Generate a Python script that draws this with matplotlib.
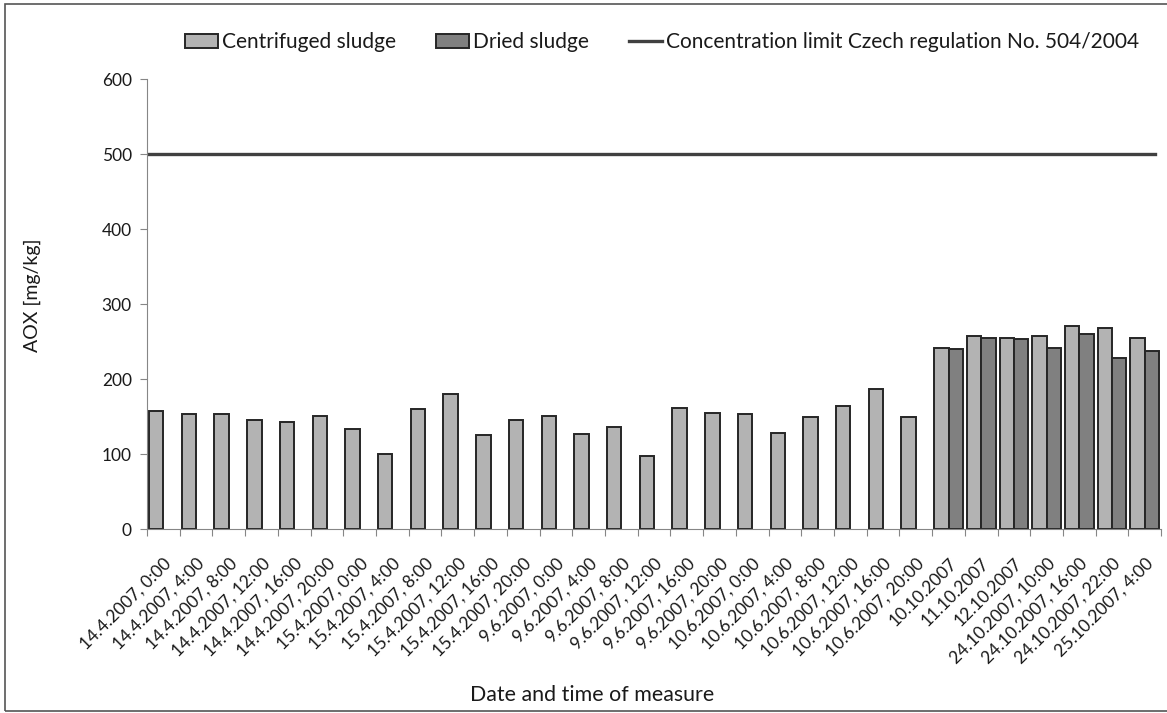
import numpy as np
import matplotlib
matplotlib.use('Agg')
import matplotlib.pyplot as plt
from matplotlib.patches import Rectangle

plt.rcParams['font.family'] = ['Lato', 'DejaVu Sans']

# Sampling times
labels = ['14.4.2007, 0:00', '14.4.2007, 4:00', '14.4.2007, 8:00', '14.4.2007, 12:00',
          '14.4.2007, 16:00', '14.4.2007, 20:00', '15.4.2007, 0:00', '15.4.2007, 4:00',
          '15.4.2007, 8:00', '15.4.2007, 12:00', '15.4.2007, 16:00', '15.4.2007, 20:00',
          '9.6.2007, 0:00', '9.6.2007, 4:00', '9.6.2007, 8:00', '9.6.2007, 12:00',
          '9.6.2007, 16:00', '9.6.2007, 20:00', '10.6.2007, 0:00', '10.6.2007, 4:00',
          '10.6.2007, 8:00', '10.6.2007, 12:00', '10.6.2007, 16:00', '10.6.2007, 20:00',
          '10.10.2007', '11.10.2007', '12.10.2007', '24.10.2007, 10:00',
          '24.10.2007, 16:00', '24.10.2007, 22:00', '25.10.2007, 4:00']

# AOX [mg/kg]
centrifuged = [158, 153, 153, 146, 143, 151, 133, 100, 160, 180, 125, 146,
               151, 127, 136, 97, 161, 155, 153, 128, 149, 164, 187, 149,
               242, 258, 255, 258, 271, 268, 255]
dried = [np.nan] * 24 + [240, 255, 253, 242, 260, 228, 237]
limit = 500

x = np.arange(len(labels))
w = 0.44

fig = plt.figure(figsize=(11.67, 7.13), dpi=100)
ax = fig.add_axes([0.126, 0.258, 0.869, 0.631])

b1 = ax.bar(x - w / 2, centrifuged, w, color='#b3b3b3', edgecolor='#262626', linewidth=1.4,
            label='Centrifuged sludge')
b2 = ax.bar(x + w / 2, dried, w, color='#808080', edgecolor='#262626', linewidth=1.4,
            label='Dried sludge')
ln = ax.axhline(limit, xmin=0, xmax=0.994, color='#404040', linewidth=2.4,
                label='Concentration limit Czech regulation No. 504/2004')

ax.set_xlim(-0.5, len(labels) - 0.5)
ax.set_ylim(0, 600)
ax.set_yticks(range(0, 601, 100))

# boundary ticks between categories, labels at the centres
ax.set_xticks(np.arange(len(labels) + 1) - 0.5)
ax.set_xticklabels([])
ax.set_xticks(x, minor=True)
ax.set_xticklabels(labels, minor=True, rotation=45, ha='right', rotation_mode='anchor',
                   fontsize=12.5, color='#1a1a1a')
ax.tick_params(axis='x', which='major', length=5, color='#868686')
ax.tick_params(axis='x', which='minor', length=0, pad=19)
ax.tick_params(axis='y', length=5, color='#868686', labelsize=12.5, labelcolor='#1a1a1a', pad=6)

for s in ['top', 'right']:
    ax.spines[s].set_visible(False)
for s in ['left', 'bottom']:
    ax.spines[s].set_color('#868686')

ax.set_ylabel('AOX [mg/kg]', fontsize=14, color='#1a1a1a')
ax.yaxis.set_label_coords(-0.1045, 0.52)
fig.text(0.507, 0.025, 'Date and time of measure', ha='center', va='center',
         fontsize=15.4, color='#1a1a1a')

ax.legend([b1, b2, ln], [b1.get_label(), b2.get_label(), ln.get_label()],
          loc='center', bbox_to_anchor=(0.508, 1.082), ncol=3, frameon=False,
          fontsize=15, handlelength=1.6, handleheight=0.63, handletextpad=0.2,
          columnspacing=1.9, labelcolor='#1a1a1a')

# chart border
fig.patches.append(Rectangle((0.004, 0.003), 1.1, 0.992, transform=fig.transFigure,
                             fill=False, edgecolor='#555555', linewidth=1.2))

fig.savefig('out.png', dpi=100)
